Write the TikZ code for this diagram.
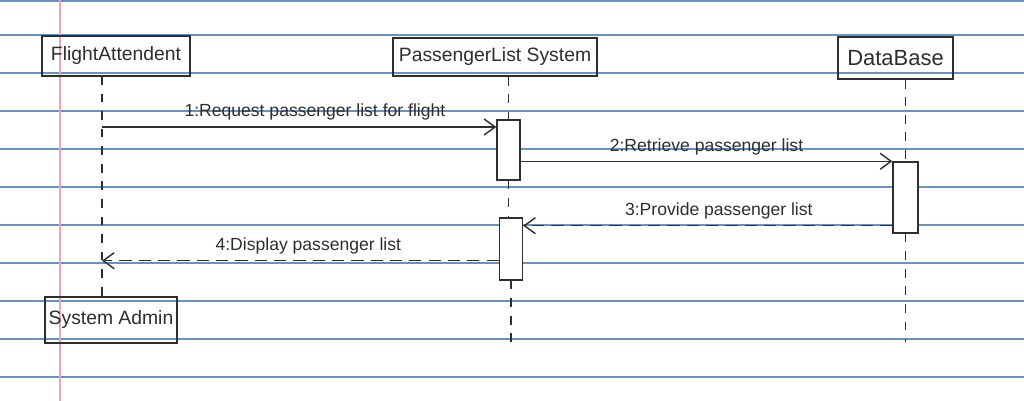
\documentclass[tikz,border=0pt]{standalone}
\usepackage{fontspec}
\setmainfont{Liberation Sans}
\usetikzlibrary{arrows.meta,positioning,calc}
\definecolor{PaperBlue}{HTML}{6B92BC}
\definecolor{PaperPink}{HTML}{E8A9B6}
\definecolor{InkGray}  {HTML}{2E2E2E}
\tikzset{
  actorbox/.style={draw=InkGray,line width=0.9pt,inner sep=1pt,
                   font=\fontsize{11}{13}\selectfont,text=InkGray},
  actbar/.style={draw=InkGray,line width=0.8pt,fill=white,
                 minimum width=0.46cm,inner sep=0pt},
  lifeline/.style={draw=InkGray,line width=0.8pt,dash pattern=on 5pt off 5pt},
  callmsg/.style={draw=InkGray,line width=0.8pt,
                  -{Straight Barb[length=2.2mm,width=3.2mm]}},
  replymsg/.style={callmsg,dash pattern=on 7pt off 4pt},
  msglabel/.style={font=\fontsize{10}{12}\selectfont,text=InkGray}
}
\begin{document}
\begin{tikzpicture}[x=0.02cm,y=-0.02cm]
    % Paper
    \useasboundingbox (0,0) rectangle (1024,401);
    \fill[white] (0,0) rectangle (1024,401);
    \foreach \ly in {1,35,73,111,149,187,225,263,301,339,377}
      \draw[PaperBlue,line width=0.7pt] (0,\ly) -- (1024,\ly);
    \draw[PaperPink,line width=0.6pt] (60,0) -- (60,401);
    % Actors
    \node[actorbox,minimum width=2.96cm,minimum height=0.8cm]  (fa)  at (116,56)   {FlightAttendent};
    \node[actorbox,minimum width=4.08cm,minimum height=0.76cm] (pls) at (495,57)   {PassengerList System};
    \node[actorbox,minimum width=2.3cm,minimum height=0.84cm,
          font=\fontsize{12.5}{14}\selectfont]                (db)  at (895.5,58) {DataBase};
    \node[actorbox,minimum width=2.64cm,minimum height=0.92cm] (sa)  at (111,320)  {System Admin};
    % Activation bars
    \node[actbar,minimum height=1.2cm]                   (act1) at (508.5,150) {};
    \node[actbar,minimum height=1.24cm]                  (act2) at (511,249)   {};
    \node[actbar,minimum height=1.42cm,minimum width=0.5cm] (act3) at (905.5,197.5) {};
    % Lifelines
    \coordinate (faL) at (102,76);
    \draw[lifeline] (faL) -- (faL |- sa.north);
    \draw[lifeline] (act1.north |- pls.south) -- (act1.north);
    \draw[lifeline] (act1.south) -- (act1.south |- act2.north);
    \coordinate (plsEnd) at (511,350);
    \draw[lifeline] (act2.south) -- (plsEnd);
    \draw[lifeline] (act3.north |- db.south) -- (act3.north);
    \coordinate (dbEnd) at (905.5,342);
    \draw[lifeline] (act3.south) -- (dbEnd);
    % Messages
    \coordinate (m1) at (102,127);
    \draw[callmsg] (m1) -- (m1 -| act1.west)
      node[msglabel,pos=0.54,above] {1:Request passenger list for flight};
    \draw[callmsg] (act1.east |- act3.north west) -- (act3.north west)
      node[msglabel,midway,above] {2:Retrieve passenger list};
    \coordinate (m3) at ($(act3.south west)+(0,-8)$);
    \draw[replymsg] (m3) -- (m3 -| act2.east)
      node[msglabel,pos=0.47,above] {3:Provide passenger list};
    \coordinate (m4) at ($(act2.south west)+(0,-20)$);
    \draw[replymsg] (m4) -- (m4 -| faL)
      node[msglabel,pos=0.48,above] {4:Display passenger list};
\end{tikzpicture}
\end{document}
